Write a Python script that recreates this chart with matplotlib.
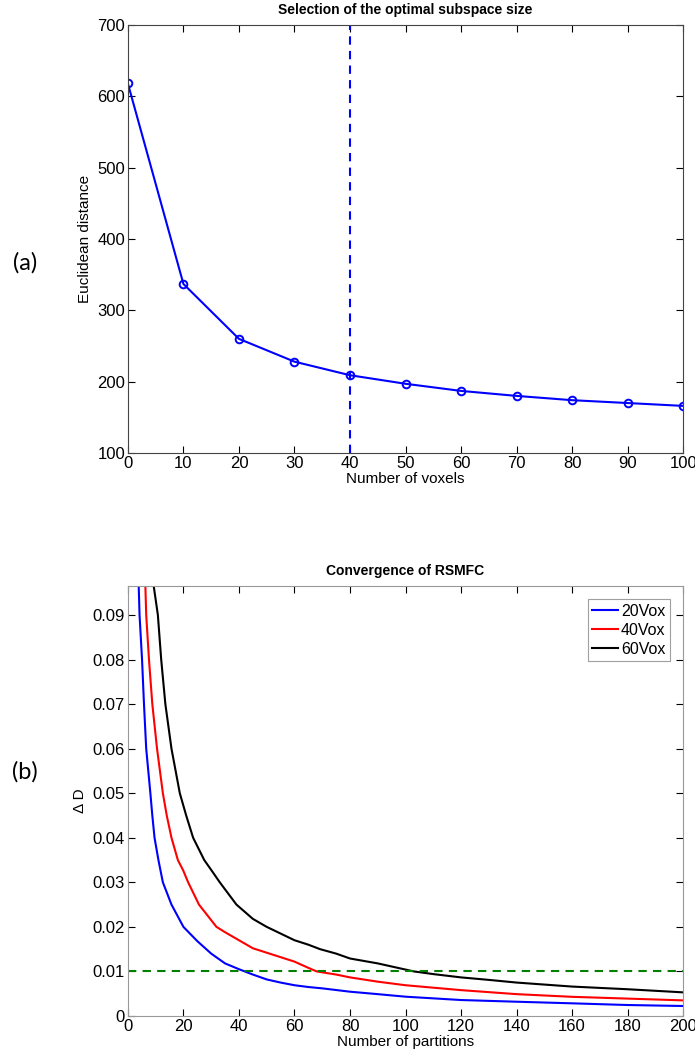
import numpy as np
import matplotlib.pyplot as plt

plt.rcParams['font.family'] = ['Liberation Sans', 'DejaVu Sans']

# (a) subspace size selection
voxels = [0, 10, 20, 30, 40, 50, 60, 70, 80, 90, 100]
eucl_dist = [618, 337, 260, 228, 209, 197, 187, 180, 174, 170, 166]
chosen_size = 40

# (b) convergence curves
p20 = [3.9, 4.2, 5.1, 5.8, 6.6, 8.1, 8.8, 9.6, 11.0, 12.6, 15.7, 20, 25, 30, 35, 40, 45, 50, 55, 60,
       65, 70, 80, 90, 100, 120, 140, 160, 180, 200]
d20 = [0.0965, 0.09, 0.08, 0.07, 0.06, 0.05, 0.045, 0.04, 0.035, 0.03, 0.025, 0.02, 0.0168, 0.014,
       0.0118, 0.0105, 0.0093, 0.0082, 0.0075, 0.0069, 0.0065, 0.0062, 0.00545, 0.0049, 0.00433,
       0.00358, 0.0032, 0.00284, 0.00246, 0.00224]
p40 = [6.3, 6.6, 7.6, 8.8, 10.5, 12.6, 14.0, 15.7, 18.0, 19.9, 21.7, 25.6, 31.9, 35, 40, 45, 50, 55,
       60, 65, 68, 75, 80, 90, 100, 120, 140, 160, 180, 200]
d40 = [0.0965, 0.09, 0.08, 0.07, 0.06, 0.05, 0.045, 0.04, 0.035, 0.0327, 0.03, 0.025, 0.02, 0.0188,
       0.017, 0.0152, 0.0142, 0.0132, 0.0122, 0.0108, 0.01, 0.0093, 0.00866, 0.0077, 0.0069, 0.0058,
       0.0049, 0.0043, 0.0039, 0.0035]
p60 = [9.3, 10.8, 12.0, 13.5, 15.7, 18.7, 21.0, 23.5, 27.5, 30.1, 33.1, 39.1, 45, 50, 55, 60, 65,
       69.2, 75, 80, 90, 103, 110, 120, 130, 140, 160, 180, 200]
d60 = [0.0965, 0.09, 0.08, 0.07, 0.06, 0.05, 0.045, 0.04, 0.035, 0.0327, 0.03, 0.025, 0.0218, 0.02,
       0.0185, 0.017, 0.016, 0.015, 0.014, 0.0129, 0.0118, 0.01, 0.0094, 0.00866, 0.0081, 0.0075,
       0.0066, 0.006, 0.0053]
threshold = 0.01

fig = plt.figure(figsize=(6.95, 10.5), dpi=100)

# ---- top panel
ax1 = fig.add_axes([0.184, 0.5686, 0.799, 0.4076])
ax1.plot(voxels, eucl_dist, color='blue', lw=1.5, marker='o', ms=5.5, mfc='none', mew=1.4)
ax1.axvline(chosen_size, color='blue', ls='--', lw=1.5, dashes=(4, 3))
ax1.set_xlim(0, 100)
ax1.set_ylim(100, 700)
ax1.set_xticks(range(0, 101, 10))
ax1.set_yticks(range(100, 701, 100))
ax1.set_xlabel('Number of voxels', fontsize=11, labelpad=1)
ax1.set_ylabel('Euclidean distance', fontsize=11, labelpad=4)
ax1.set_title('Selection of the optimal subspace size', fontsize=10, fontweight='bold', pad=8)
for s in ax1.spines.values():
    s.set_color('#444444')

# ---- bottom panel
ax2 = fig.add_axes([0.184, 0.0324, 0.799, 0.4095])
ax2.plot(p20, d20, color='blue', lw=1.5, label='20Vox')
ax2.plot(p40, d40, color='red', lw=1.5, label='40Vox')
ax2.plot(p60, d60, color='black', lw=1.5, label='60Vox')
ax2.axhline(threshold, color='#007f00', ls='--', lw=1.5, dashes=(4, 3))
ax2.set_xlim(0, 200)
ax2.set_ylim(0, 0.0965)
ax2.set_xticks(range(0, 201, 20))
ax2.set_yticks([0, 0.01, 0.02, 0.03, 0.04, 0.05, 0.06, 0.07, 0.08, 0.09])
ax2.set_yticklabels(['0', '0.01', '0.02', '0.03', '0.04', '0.05', '0.06', '0.07', '0.08', '0.09'])
ax2.set_xlabel('Number of partitions', fontsize=11, labelpad=1)
ax2.set_ylabel('Δ D', fontsize=11, labelpad=4)
ax2.set_title('Convergence of RSMFC', fontsize=10, fontweight='bold', pad=8)
leg = ax2.legend(loc='upper right', fontsize=11.5, handlelength=1.6, handletextpad=0.2,
                 borderpad=0.3, labelspacing=0.25, fancybox=False, borderaxespad=0.8)
leg.get_frame().set_edgecolor('#888888')
leg.get_frame().set_linewidth(0.8)
for s in ax2.spines.values():
    s.set_color('#999999')

for ax in (ax1, ax2):
    ax.tick_params(direction='in', top=True, right=True, length=5, labelsize=12, pad=2)

fig.text(0.036, 0.75, '(a)', fontsize=17, family=['Lato', 'DejaVu Sans'], va='center', ha='center')
fig.text(0.036, 0.265, '(b)', fontsize=17, family=['Lato', 'DejaVu Sans'], va='center', ha='center')

fig.savefig('out.png', dpi=100)
